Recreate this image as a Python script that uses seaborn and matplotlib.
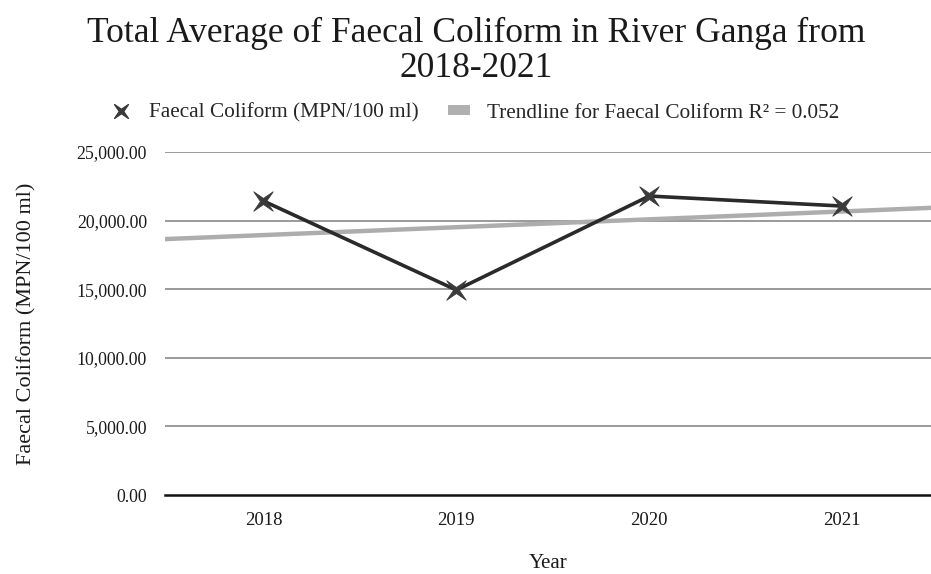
import numpy as np
import pandas as pd
import matplotlib
matplotlib.use("Agg")
import matplotlib.pyplot as plt
import seaborn as sns
from matplotlib.lines import Line2D
from matplotlib.patches import Patch
from matplotlib.path import Path

years = ["2018", "2019", "2020", "2021"]
coliform = [21430, 14940, 21790, 21060]
yticks = [0, 5000, 10000, 15000, 20000, 25000]

sns.set_theme(style="white")
plt.rcParams["font.family"] = ["Liberation Serif", "DejaVu Serif"]

# thin four-pointed star (X shape)
angs = np.deg2rad(np.arange(45, 405, 45))
rad = [1.0 if i % 2 == 0 else 0.22 for i in range(8)]
verts = [(r * np.cos(a), r * np.sin(a)) for r, a in zip(rad, angs)]
verts.append(verts[0])
star = Path(verts, [Path.MOVETO] + [Path.LINETO] * 7 + [Path.CLOSEPOLY])

fig = plt.figure(figsize=(9.31, 5.74), dpi=100)
ax = fig.add_axes([165 / 931, 79 / 574, 766 / 931, 343 / 574])

pos = np.arange(len(years))
df = pd.DataFrame({"pos": pos, "val": coliform})

slope, intercept = np.polyfit(pos, coliform, 1)
pred = slope * pos + intercept
r2 = 1 - np.sum((np.array(coliform) - pred) ** 2) / np.sum((np.array(coliform) - np.mean(coliform)) ** 2)
xl = (-0.51, 3.46)
tdf = pd.DataFrame({"pos": list(xl), "val": [slope * x + intercept for x in xl]})

for yv in yticks[1:]:
    ax.axhline(yv, color="#9a9a9a", lw=1.4, zorder=0)

sns.lineplot(data=tdf, x="pos", y="val", ax=ax, color="#adadad", lw=3.2, zorder=1)
sns.lineplot(data=df, x="pos", y="val", ax=ax, color="#2a2a2a", lw=2.6,
             marker=star, markersize=14, markerfacecolor="#3a3a3a",
             markeredgecolor="#3a3a3a", markeredgewidth=0.6, zorder=3)

ax.set_xlim(*xl)
ax.set_ylim(0, 25000)
ax.set_yticks(yticks)
ax.set_yticklabels([f"{v:,.2f}" for v in yticks], fontsize=12.8, color="#1a1a1a")
ax.set_xticks(pos)
ax.set_xticklabels(years, fontsize=13.5, color="#1a1a1a")
ax.tick_params(axis="both", length=0)
ax.tick_params(axis="y", pad=13)
ax.tick_params(axis="x", pad=12)

for s in ["top", "right", "left"]:
    ax.spines[s].set_visible(False)
ax.spines["bottom"].set_color("#111111")
ax.spines["bottom"].set_linewidth(1.8)

ax.set_xlabel("Year", fontsize=15, labelpad=18, color="#1a1a1a")
ax.set_ylabel("Faecal Coliform (MPN/100 ml)", fontsize=16, labelpad=29, color="#1a1a1a")

fig.text(0.512, 0.97, "Total Average of Faecal Coliform in River Ganga from\n2018-2021",
         ha="center", va="top", fontsize=25.5, linespacing=1.05, color="#1a1a1a")

handles = [
    Line2D([], [], linestyle="none", marker=star, markersize=10,
           color="#3a3a3a"),
    Patch(facecolor="#b0b0b0", edgecolor="none"),
]
labels = ["Faecal Coliform (MPN/100 ml)",
          f"Trendline for Faecal Coliform R² = {r2:.3f}"]
fig.legend(handles, labels, loc="center", bbox_to_anchor=(0.51, 0.803), ncol=2,
           frameon=False, fontsize=15.3, handlelength=1.0, handleheight=0.35,
           columnspacing=1.4, handletextpad=0.8)

fig.savefig("out.png", dpi=100)
